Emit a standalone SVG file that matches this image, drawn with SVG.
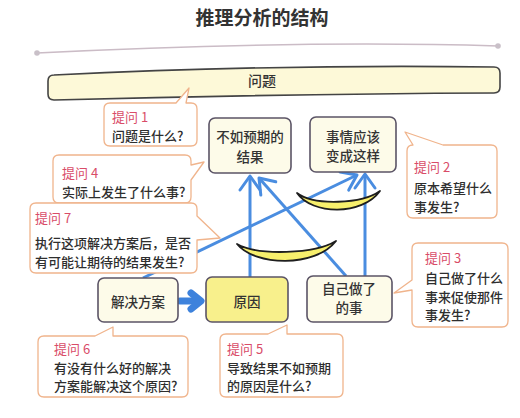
<svg xmlns="http://www.w3.org/2000/svg" width="520" height="418" viewBox="0 0 520 418">
<defs>
<style>
text{font-family:"Noto Sans CJK SC","Noto Sans",sans-serif;}
.title{font-size:19px;font-weight:bold;fill:#333;text-anchor:middle;}
.node{fill:#fdfbe9;stroke:#5b5466;stroke-width:1.6;}
.cause{fill:#f8f08c;stroke:#5b5466;stroke-width:1.6;}
.nt{font-size:13.5px;font-weight:500;fill:#333;text-anchor:middle;}
.bub{fill:#fff;stroke:#f0b48c;stroke-width:1.3;stroke-linejoin:round;}
.lab{font-size:13px;fill:#d94c68;}
.bt{font-size:13px;font-weight:500;fill:#2e2e2e;}
.con{fill:none;stroke:#4a8de0;stroke-width:3;marker-end:url(#chev);}
.ban{fill:#f7ef6c;stroke:#1e1e1e;stroke-width:1.8;stroke-linejoin:round;}
</style>
<marker id="chev" markerUnits="userSpaceOnUse" markerWidth="30" markerHeight="30" viewBox="-15 -15 30 30" refX="0" refY="0" orient="auto" overflow="visible">
<path d="M-14,-10 L0,0 L-14,10" fill="none" stroke="#4a8de0" stroke-width="3" stroke-linecap="round" stroke-linejoin="round"/>
</marker>
</defs>
<rect width="520" height="418" fill="#fff"/>

<g id="title">
<text class="title" x="262" y="25">推理分析的结构</text>
<path d="M37,53 Q300,40 498,46" fill="none" stroke="#cbbcc6" stroke-width="1.5"/>
<circle cx="37" cy="53" r="2.8" fill="#c9c0c8"/>
<circle cx="498" cy="46" r="2.8" fill="#c9c0c8"/>
</g>

<g id="problem">
<path d="M54,75 Q280,64 494,67 Q500,67 500,73 V87 Q500,93 494,93 Q280,94 54,100 Q48,100 48,94 V81 Q48,75 54,75 Z" fill="#fdf9d8" stroke="#444" stroke-width="1.6"/>
<text class="nt" x="262" y="86" style="font-size:14px">问题</text>
</g>

<g id="connectors">
<line class="con" x1="250" y1="277" x2="250" y2="176"/>
<line class="con" x1="346" y1="276" x2="259" y2="178"/>
<line class="con" x1="365" y1="276" x2="365" y2="174"/>
<line class="con" x1="143" y1="278" x2="357" y2="175"/>
<g id="fat-arrow" stroke="#3d82dc" stroke-width="7" stroke-linecap="round" stroke-linejoin="round" fill="none">
<line x1="180" y1="301" x2="199" y2="301"/>
<path d="M191,293 L201,301 L191,309"/>
</g>
</g>

<g id="gaps">
<path class="ban" d="M237,244 C255,266 315,268 336,241 C315,254 258,256 237,244 Z"/>
<path class="ban" d="M297,193 C312,215 362,216 380,191 C362,204 314,206 297,193 Z"/>
</g>

<g id="node-unexpected">
<rect class="node" x="209" y="118" width="82" height="55" rx="6"/>
<text class="nt" x="250" y="142">不如预期的</text>
<text class="nt" x="250" y="162">结果</text>
</g>
<g id="node-should">
<rect class="node" x="310" y="117" width="86" height="55" rx="6"/>
<text class="nt" x="353" y="142">事情应该</text>
<text class="nt" x="353" y="161">变成这样</text>
</g>
<g id="node-solution">
<rect class="node" x="98" y="278" width="80" height="44" rx="6"/>
<text class="nt" x="138" y="307">解决方案</text>
</g>
<g id="node-cause">
<rect class="cause" x="206" y="277" width="82" height="45" rx="6"/>
<text class="nt" x="247" y="307">原因</text>
</g>
<g id="node-did">
<rect class="node" x="307" y="276" width="85" height="46" rx="6"/>
<text class="nt" x="349" y="294">自己做了</text>
<text class="nt" x="349" y="313">的事</text>
</g>

<g id="q1">
<path class="bub" d="M110,103 H176 L189,88 L186,103 H191 Q197,103 197,109 V140 Q197,146 191,146 H110 Q104,146 104,140 V109 Q104,103 110,103 Z"/>
<text class="lab" x="112" y="122">提问 1</text>
<text class="bt" x="112" y="141">问题是什么?</text>
</g>
<g id="q4">
<path class="bub" d="M59,155 H185 Q191,155 191,161 V165 L204,162 L191,180 V197 Q191,203 185,203 H59 Q53,203 53,197 V161 Q53,155 59,155 Z"/>
<text class="lab" x="62" y="178">提问 4</text>
<text class="bt" x="62" y="197">实际上发生了什么事?</text>
</g>
<g id="q7">
<path class="bub" d="M36,203 H191 Q197,203 197,209 V216 L220,238 L197,240 V267 Q197,273 191,273 H36 Q30,273 30,267 V209 Q30,203 36,203 Z"/>
<text class="lab" x="35" y="223">提问 7</text>
<text class="bt" x="35" y="248">执行这项解决方案后，是否</text>
<text class="bt" x="35" y="267">有可能让期待的结果发生?</text>
</g>
<g id="q2">
<path class="bub" d="M413,145 L405,132 L443,145 H491 Q497,145 497,151 V212 Q497,218 491,218 H413 Q407,218 407,212 V151 Q407,145 413,145 Z"/>
<text class="lab" x="414" y="172">提问 2</text>
<text class="bt" x="414" y="193">原本希望什么</text>
<text class="bt" x="414" y="212">事发生?</text>
</g>
<g id="q3">
<path class="bub" d="M418,243 H502 Q508,243 508,249 V321 Q508,327 502,327 H418 Q412,327 412,321 V290 L394,293 L412,280 V249 Q412,243 418,243 Z"/>
<text class="lab" x="425" y="263">提问 3</text>
<text class="bt" x="425" y="283">自己做了什么</text>
<text class="bt" x="425" y="302">事来促使那件</text>
<text class="bt" x="425" y="320">事发生?</text>
</g>
<g id="q6">
<path class="bub" d="M44,336 H95 L113,327 V336 H182 Q188,336 188,342 V391 Q188,397 182,397 H44 Q38,397 38,391 V342 Q38,336 44,336 Z"/>
<text class="lab" x="54" y="354">提问 6</text>
<text class="bt" x="54" y="373">有没有什么好的解决</text>
<text class="bt" x="54" y="391">方案能解决这个原因?</text>
</g>
<g id="q5">
<path class="bub" d="M226,334 H268 L287,325 V334 H337 Q343,334 343,340 V391 Q343,397 337,397 H226 Q220,397 220,391 V340 Q220,334 226,334 Z"/>
<text class="lab" x="227" y="354">提问 5</text>
<text class="bt" x="227" y="373">导致结果不如预期</text>
<text class="bt" x="227" y="391">的原因是什么?</text>
</g>
</svg>
